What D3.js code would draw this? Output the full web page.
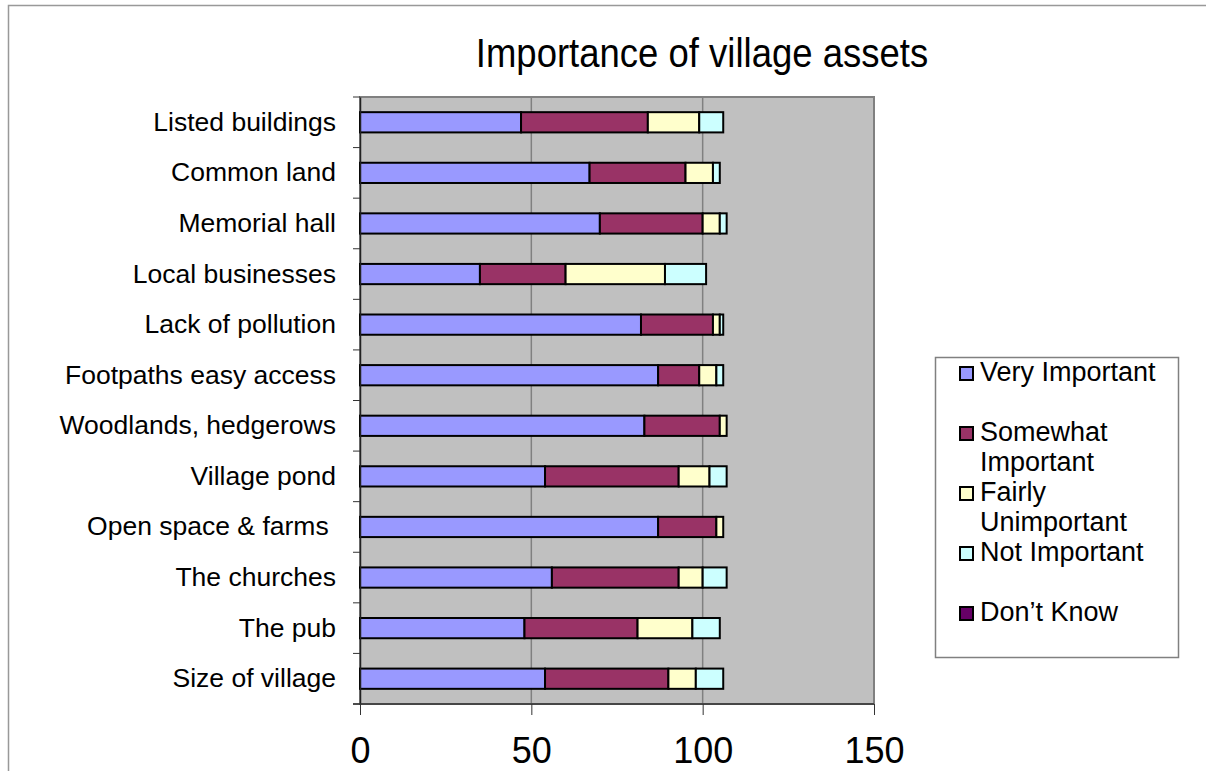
<!DOCTYPE html>
<html lang="en">
<head>
<meta charset="UTF-8">
<title>Importance of village assets</title>
<script src="https://d3js.org/d3.v7.min.js"></script>
<style>
  body { margin: 0; background: #fff; }
  svg text { font-family: "Liberation Sans", Arial, sans-serif; fill: #000; }
</style>
</head>
<body>
<svg width="1206" height="771"></svg>
<script>
// categories, top to bottom as drawn
const categories = [
  "Listed buildings", "Common land", "Memorial hall", "Local businesses",
  "Lack of pollution", "Footpaths easy access", "Woodlands, hedgerows",
  "Village pond", "Open space & farms ", "The churches", "The pub", "Size of village"
];
const veryImportant     = [47, 67, 70, 35, 82, 87, 83, 54, 87, 56, 48, 54];
const somewhatImportant = [37, 28, 30, 25, 21, 12, 22, 39, 17, 37, 33, 36];
const fairlyUnimportant = [15,  8,  5, 29,  2,  5,  2,  9,  2,  7, 16,  8];
const notImportant      = [ 7,  2,  2, 12,  1,  2,  0,  5,  0,  7,  8,  8];
const dontKnow          = [ 0,  0,  0,  0,  0,  0,  0,  0,  0,  0,  0,  0];

const seriesNames = ["Very Important", "Somewhat Important", "Fairly Unimportant", "Not Important", "Don\u2019t Know"];
const legendLines = [["Very Important"], ["Somewhat", "Important"], ["Fairly", "Unimportant"], ["Not Important"], ["Don\u2019t Know"]];
const colors = ["#9999ff", "#993366", "#ffffcc", "#ccffff", "#660066"];
const xTicks = [0, 50, 100, 150];

const plot = { left: 360, right: 874, top: 97, bottom: 704 };

const svg = d3.select("svg");

// outer chart frame (runs off the page on right/bottom)
svg.append("rect")
  .attr("x", 8.5).attr("y", 5.5)
  .attr("width", 1400).attr("height", 900)
  .attr("fill", "none").attr("stroke", "#999").attr("stroke-width", 1.5);

const table = categories.map((c, i) => ({
  cat: c,
  "Very Important": veryImportant[i],
  "Somewhat Important": somewhatImportant[i],
  "Fairly Unimportant": fairlyUnimportant[i],
  "Not Important": notImportant[i],
  "Don\u2019t Know": dontKnow[i]
}));
const stacked = d3.stack().keys(seriesNames)(table);

const x = d3.scaleLinear().domain([0, 150]).range([plot.left, plot.right]);
const y = d3.scaleBand().domain(categories).range([plot.top, plot.bottom])
  .paddingInner(0.6).paddingOuter(0.3);

// plot background
svg.append("rect")
  .attr("x", plot.left).attr("y", plot.top)
  .attr("width", plot.right - plot.left).attr("height", plot.bottom - plot.top)
  .attr("fill", "#c0c0c0").attr("stroke", "#808080").attr("stroke-width", 2);

// gridlines
svg.append("g")
  .selectAll("line")
  .data(xTicks.filter(t => t > 0 && t < 150))
  .join("line")
  .attr("x1", d => x(d)).attr("x2", d => x(d))
  .attr("y1", plot.top).attr("y2", plot.bottom)
  .attr("stroke", "#808080").attr("stroke-width", 1.5);

// bars
svg.append("g")
  .selectAll("g")
  .data(stacked)
  .join("g")
  .attr("fill", (d, i) => colors[i])
  .selectAll("rect")
  .data(d => d.map((v, j) => ({ v, cat: categories[j] })).filter(o => o.v[1] - o.v[0] > 0))
  .join("rect")
  .attr("x", d => x(d.v[0]))
  .attr("y", d => y(d.cat))
  .attr("width", d => x(d.v[1]) - x(d.v[0]))
  .attr("height", y.bandwidth())
  .attr("stroke", "#000").attr("stroke-width", 2);

// category axis
const yAxis = svg.append("g")
  .attr("transform", `translate(${plot.left},0)`)
  .call(d3.axisLeft(y).tickSize(0).tickPadding(24));
yAxis.select(".domain").attr("stroke", "#222").attr("stroke-width", 1.5);
yAxis.selectAll("text")
  .attr("font-size", 26.5)
  .attr("font-family", "Liberation Sans, Arial, sans-serif")
  .attr("xml:space", "preserve")
  .style("white-space", "pre");

// category tick marks between bands
const bounds = categories.map(c => y(c) - y.step() * 0.3).concat([plot.bottom]);
svg.append("g")
  .selectAll("line")
  .data(bounds)
  .join("line")
  .attr("x1", plot.left - 7).attr("x2", plot.left)
  .attr("y1", d => d).attr("y2", d => d)
  .attr("stroke", "#333").attr("stroke-width", 1);

// value axis
const xAxis = svg.append("g")
  .attr("transform", `translate(0,${plot.bottom})`)
  .call(d3.axisBottom(x).tickValues(xTicks).tickSize(11).tickPadding(22));
xAxis.select(".domain").remove();
xAxis.selectAll("line").attr("stroke", "#333");
xAxis.selectAll("text")
  .attr("font-size", 36)
  .attr("font-family", "Liberation Sans, Arial, sans-serif");
svg.append("line")
  .attr("x1", plot.left - 7).attr("x2", plot.right)
  .attr("y1", plot.bottom).attr("y2", plot.bottom)
  .attr("stroke", "#333").attr("stroke-width", 1.5);

// title
svg.append("text")
  .attr("transform", "translate(702,67) scale(1,1.12)")
  .attr("text-anchor", "middle")
  .attr("font-size", 36.5)
  .text("Importance of village assets");

// legend
const legend = svg.append("g");
legend.append("rect")
  .attr("x", 935.5).attr("y", 357.5)
  .attr("width", 243).attr("height", 300)
  .attr("fill", "#fff").attr("stroke", "#808080").attr("stroke-width", 1.5);

const item = legend.selectAll("g.item")
  .data(seriesNames)
  .join("g")
  .attr("class", "item")
  .attr("transform", (d, i) => `translate(0,${381 + i * 60})`);
item.append("rect")
  .attr("x", 960).attr("y", -14)
  .attr("width", 13).attr("height", 13)
  .attr("fill", (d, i) => colors[i])
  .attr("stroke", "#000").attr("stroke-width", 2);
item.append("text")
  .attr("x", 980).attr("y", 0)
  .attr("font-size", 27)
  .selectAll("tspan")
  .data((d, i) => legendLines[i])
  .join("tspan")
  .attr("x", 980)
  .attr("dy", (d, j) => j === 0 ? 0 : 30)
  .text(d => d);
</script>
</body>
</html>
